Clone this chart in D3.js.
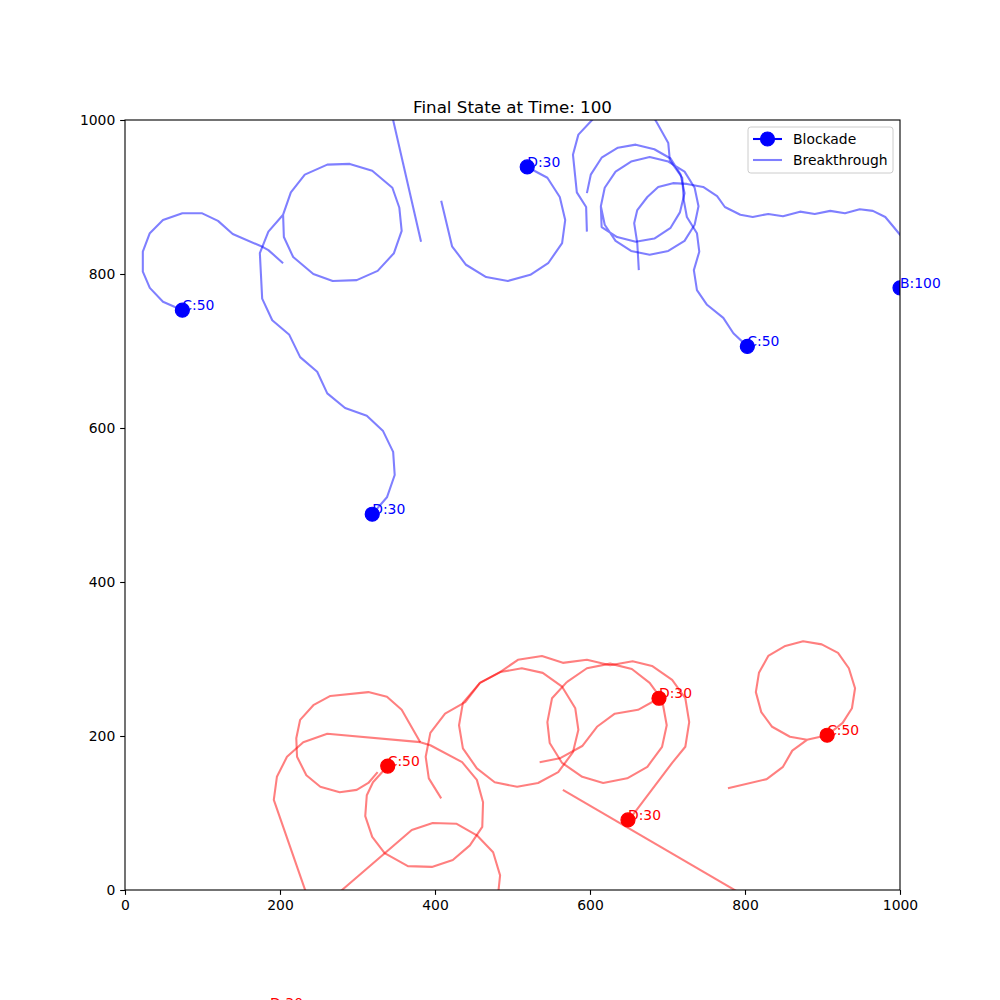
<!DOCTYPE html>
<html>
<head>
<meta charset="utf-8">
<script src="https://cdn.jsdelivr.net/npm/d3@7"></script>
<style>
	body { margin: 0; background: #fff; }
	text { font-family: "DejaVu Sans", sans-serif; }
</style>
</head>
<body>
<div id="app"></div>
<script>
let title = "Final State at Time: 100"
let ticks = [0, 200, 400, 600, 800, 1000]
let legendLabels = ["Blockade", "Breakthrough"]

// final positions of the units
let blueLabels = ["C:50", "D:30", "D:30", "C:50", "B:100"]
let blueX = [74, 319, 519, 803, 1000]
let blueY = [753, 488, 939, 706, 782]
let redLabels = ["C:50", "D:30", "D:30", "C:50", "D:30"]
let redX = [339, 689, 649, 906, 187]
let redY = [161, 249, 91, 201, -153]

// trails (data coords)
let blueTrailC1 = [[204,814],[185,831],[178,835],[139,852],[120,869],[99,879],[74,879],[49,870],[32,853],[23,829],[23,803],[32,782],[49,764],[74,753]]
let blueTrailD1 = [[204,877],[214,906],[232,929],[261,942],[290,943],[319,934],[345,912],[354,886],[357,856],[347,827],[326,804],[299,792],[268,791],[243,800],[217,822],[205,848],[204,877],[185,855],[174,827],[177,768],[190,740],[212,721],[226,692],[248,673],[261,645],[284,626],[312,616],[333,596],[346,569],[348,539],[338,510],[319,488]]
let blueTrailExit = [[343,1013],[382,842]]
let blueTrailD2 = [[408,895],[422,836],[440,812],[466,796],[494,791],[523,799],[546,814],[564,840],[568,870],[561,900],[545,925],[519,939]]
let blueTrailC2 = [[596,855],[595,887],[583,906],[578,955],[585,981],[600,997],[619,1018],[649,1026],[675,1016],[686,997],[701,970],[703,948],[719,925],[721,896],[725,874],[738,853],[741,829],[734,805],[738,779],[751,760],[772,743],[785,723],[803,706]]
let blueTrailLoops = [[596,905],[601,929],[615,951],[636,964],[659,968],[683,962],[704,950],[717,929],[722,905],[716,880],[704,860],[683,846],[659,842],[635,848],[615,861],[614,888],[619,912],[633,933],[653,946],[677,952],[701,946],[722,933],[735,912],[740,888],[735,864],[722,843],[701,830],[677,825],[653,830],[633,843],[619,864],[614,888]]
let blueTrailB = [[663,805],[661,840],[657,866],[661,883],[674,900],[688,913],[707,918],[725,917],[746,913],[764,901],[774,887],[794,877],[810,874],[830,878],[849,875],[871,881],[890,878],[910,882],[929,879],[948,884],[965,882],[981,874],[991,862],[1000,851],[1012,838],[1018,812],[1000,782]]

let redTrailC1 = [[239,-19],[192,117],[196,147],[209,173],[230,192],[261,203],[381,192],[394,188],[435,166],[454,143],[462,114],[461,82],[445,58],[423,39],[396,30],[365,31],[335,48],[319,69],[310,96],[312,123],[320,140],[339,161]]
let redTrailLoop = [[326,153],[314,139],[299,130],[277,127],[252,134],[234,149],[222,173],[221,197],[226,221],[243,240],[265,252],[314,257],[338,251],[357,234],[381,192]]
let redTrailOut = [[480,-19],[484,19],[475,49],[454,71],[428,86],[397,87],[370,78],[280,0],[200,-70],[187,-153]]
let redTrailD1 = [[408,119],[392,145],[388,173],[394,204],[413,229],[439,244],[458,269],[484,283],[507,299],[538,304],[565,295],[596,299],[626,292],[655,297],[680,291],[706,273],[723,249],[728,218],[723,186],[706,165],[658,101],[649,91]]
let redTrailD2 = [[535,166],[561,171],[590,187],[609,212],[632,229],[662,234],[689,249]]
let redTrailRingA = [[458,269],[484,283],[512,288],[539,282],[564,264],[581,236],[585,208],[578,179],[559,153],[533,139],[506,134],[477,140],[454,158],[436,184],[431,214],[436,243],[458,269]]
let redTrailRingB = [[570,270],[596,288],[626,294],[654,287],[677,269],[693,247],[699,214],[693,186],[674,160],[648,145],[617,139],[590,147],[564,165],[548,191],[545,218],[551,249],[570,270]]
let redTrailStraight = [[565,130],[819,-19]]
let redTrailC2 = [[778,132],[828,144],[849,160],[861,181],[880,195],[906,201],[926,217],[938,236],[942,262],[934,288],[920,308],[899,319],[875,323],[852,317],[830,304],[818,282],[814,257],[821,231],[835,212],[858,199],[880,195],[906,201]]

let blueTrails = [blueTrailC1, blueTrailD1, blueTrailExit, blueTrailD2, blueTrailC2, blueTrailLoops, blueTrailB]
let redTrails = [redTrailC1, redTrailLoop, redTrailOut, redTrailD1, redTrailD2, redTrailRingA, redTrailRingB, redTrailStraight, redTrailC2]

const W = 1000, H = 1000
const mLeft = 125, mRight = 900, mTop = 120, mBottom = 890
const fs = 13.9

let svg = d3.select("#app").append("svg")
	.attr("width", W)
	.attr("height", H)

let x = d3.scaleLinear().domain([0, 1000]).range([mLeft, mRight])
let y = d3.scaleLinear().domain([0, 1000]).range([mBottom, mTop])

svg.append("defs").append("clipPath")
	.attr("id", "plot-clip")
	.append("rect")
	.attr("x", mLeft).attr("y", mTop)
	.attr("width", mRight - mLeft).attr("height", mBottom - mTop)

let line = d3.line().x(d => x(d[0])).y(d => y(d[1]))

let plot = svg.append("g").attr("clip-path", "url(#plot-clip)")

function drawTrails(trails, color) {
	plot.append("g").selectAll("path")
		.data(trails)
		.join("path")
		.attr("d", line)
		.attr("fill", "none")
		.attr("stroke", color)
		.attr("stroke-opacity", 0.5)
		.attr("stroke-width", 2.08)
		.attr("stroke-linejoin", "round")
}
drawTrails(blueTrails, "#0000ff")
drawTrails(redTrails, "#ff0000")

function drawUnits(xs, ys, labels, color) {
	plot.append("g").selectAll("circle")
		.data(xs)
		.join("circle")
		.attr("cx", d => x(d))
		.attr("cy", (d, i) => y(ys[i]))
		.attr("r", 7)
		.attr("fill", color)
		.attr("stroke", color)
		.attr("stroke-width", 1.2)
	// labels are not clipped, like the reference
	svg.append("g").selectAll("text")
		.data(labels)
		.join("text")
		.attr("x", (d, i) => x(xs[i]))
		.attr("y", (d, i) => y(ys[i]))
		.attr("fill", color)
		.attr("font-size", fs)
		.text(d => d)
}
drawUnits(blueX, blueY, blueLabels, "#0000ff")
drawUnits(redX, redY, redLabels, "#ff0000")

// axes
let xAxis = svg.append("g")
	.attr("transform", `translate(0,${mBottom})`)
	.call(d3.axisBottom(x).tickValues(ticks).tickFormat(d3.format("d")).tickSize(4.86).tickPadding(4.86))
let yAxis = svg.append("g")
	.attr("transform", `translate(${mLeft},0)`)
	.call(d3.axisLeft(y).tickValues(ticks).tickFormat(d3.format("d")).tickSize(4.86).tickPadding(4.86))
;[xAxis, yAxis].forEach(a => {
	a.select(".domain").remove()
	a.selectAll("line").attr("stroke", "#000").attr("stroke-width", 1.1)
	a.selectAll("text")
		.attr("font-size", fs)
		.attr("fill", "#000")
		.style("font-family", "'DejaVu Sans', sans-serif")
})

svg.append("rect")
	.attr("x", mLeft).attr("y", mTop)
	.attr("width", mRight - mLeft).attr("height", mBottom - mTop)
	.attr("fill", "none")
	.attr("stroke", "#000")
	.attr("stroke-width", 1.1)

svg.append("text")
	.attr("x", (mLeft + mRight) / 2)
	.attr("y", mTop - 7)
	.attr("text-anchor", "middle")
	.attr("font-size", 16.7)
	.attr("fill", "#000")
	.text(title)

// legend
let legend = svg.append("g").attr("transform", "translate(748,127)")
legend.append("rect")
	.attr("width", 145).attr("height", 46)
	.attr("rx", 2.8)
	.attr("fill", "#fff").attr("fill-opacity", 0.8)
	.attr("stroke", "#cccccc").attr("stroke-width", 1)
let rows = legend.selectAll("g.row")
	.data(legendLabels)
	.join("g")
	.attr("class", "row")
	.attr("transform", (d, i) => `translate(0,${12 + i * 21})`)
rows.append("line")
	.attr("x1", 5).attr("x2", 34)
	.attr("stroke", "#0000ff")
	.attr("stroke-opacity", (d, i) => i == 0 ? 1 : 0.5)
	.attr("stroke-width", 2.08)
rows.filter((d, i) => i == 0).append("circle")
	.attr("cx", 19.5).attr("r", 7)
	.attr("fill", "#0000ff")
	.attr("stroke", "#0000ff").attr("stroke-width", 1.2)
rows.append("text")
	.attr("x", 45).attr("y", 5)
	.attr("font-size", fs)
	.attr("fill", "#000")
	.text(d => d)
</script>
</body>
</html>
